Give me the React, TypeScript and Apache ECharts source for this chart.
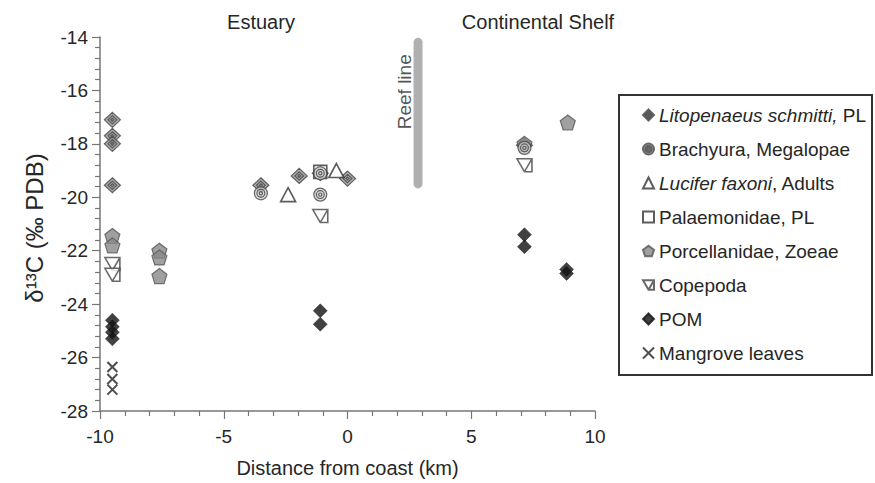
import React, { useEffect, useRef } from 'react';
import * as echarts from 'echarts';

const FONT = '"Liberation Sans", Arial, Helvetica, sans-serif';
const TEXT = '#262626';

// axis ranges
const X_MIN = -10, X_MAX = 10, X_STEP = 5;
const Y_MIN = -28, Y_MAX = -14, Y_STEP = 2;

// series names
const NAMES = [
  'Litopenaeus schmitti, PL',
  'Brachyura, Megalopae',
  'Lucifer faxoni, Adults',
  'Palaemonidae, PL',
  'Porcellanidae, Zoeae',
  'Copepoda',
  'POM',
  'Mangrove leaves',
];

// [distance km, d13C]
const litopenaeus = [
  [-9.5, -17.1], [-9.5, -17.7], [-9.5, -18.0], [-9.5, -19.55],
  [-3.5, -19.55], [-1.95, -19.2], [-1.1, -19.1], [0.0, -19.3], [7.15, -18.05],
];
const brachyura = [[-3.5, -19.85], [-1.1, -19.1], [-1.1, -19.9], [7.15, -18.15]];
const lucifer = [[-2.4, -19.9], [-0.45, -19.0]];
const palaemonidae = [[-1.1, -19.05]];
const porcellanidae = [
  [-9.5, -21.45], [-9.5, -21.8], [-7.6, -22.0], [-7.6, -22.25], [-7.6, -22.95],
  [7.15, -18.0], [8.9, -17.2],
];
const copepoda = [[-9.5, -22.5], [-9.5, -22.9], [-1.1, -20.7], [7.15, -18.8]];
const pom = [
  [-9.5, -24.6], [-9.5, -24.85], [-9.5, -25.05], [-9.5, -25.3],
  [-1.1, -24.25], [-1.1, -24.75], [7.15, -21.4], [7.15, -21.85], [8.85, -22.7], [8.85, -22.85],
];
const mangrove = [[-9.5, -26.35], [-9.5, -26.8], [-9.5, -27.2]];

const reefLine = [[2.85, -14.2], [2.85, -19.5]];
const reefLabel = [[2.3, -16.05]];

const SYM_DIAMOND_RING = 'path://M0,-10L10,0L0,10L-10,0Z M0,-5.5L5.5,0L0,5.5L-5.5,0Z M0,-2L2,0L0,2L-2,0Z';
const SYM_RING = 'path://M-10,0A10,10 0 1,1 10,0A10,10 0 1,1 -10,0Z M-6,0A6,6 0 1,1 6,0A6,6 0 1,1 -6,0Z M-2.5,0A2.5,2.5 0 1,1 2.5,0A2.5,2.5 0 1,1 -2.5,0Z';
const SYM_PENTAGON = 'path://M0,-10L9.51,-3.09L5.88,8.09L-5.88,8.09L-9.51,-3.09Z';
const SYM_COPEPODA = 'path://M-8,-7L8,-7L8,7L0,7Z M8,-7L0,7';
const SYM_CROSS = 'path://M-5,-5L5,5M5,-5L-5,5';

export default function App() {
  const ref = useRef<HTMLDivElement>(null);
  useEffect(() => {
    if (!ref.current) return;
    const chart = echarts.init(ref.current, undefined, { renderer: 'svg' });
    const scatter = (name: string, data: number[][], symbol: string, size: number | number[], itemStyle: any, z = 2) => ({
      type: 'scatter', name, data, symbol, symbolSize: size, itemStyle, z,
    });
    chart.setOption({
      animation: false,
      backgroundColor: '#fff',
      textStyle: { fontFamily: FONT },
      grid: { left: 100, right: 280, top: 37, bottom: 67 },
      xAxis: {
        type: 'value', min: X_MIN, max: X_MAX, interval: X_STEP,
        name: 'Distance from coast (km)', nameLocation: 'middle', nameGap: 47,
        nameTextStyle: { fontSize: 20, color: TEXT, fontFamily: FONT },
        axisLine: { onZero: false, lineStyle: { color: '#777', width: 1.5 } },
        axisTick: { length: 8, lineStyle: { color: '#777', width: 1.2 } },
        minorTick: { show: true, splitNumber: 5, length: 5, lineStyle: { color: '#777', width: 1.2 } },
        splitLine: { show: false },
        axisLabel: { fontSize: 19, color: TEXT, margin: 16, fontFamily: FONT },
      },
      yAxis: {
        type: 'value', min: Y_MIN, max: Y_MAX, interval: Y_STEP,
        axisLine: { show: true, onZero: false, lineStyle: { color: '#777', width: 1.5 } },
        axisTick: { show: true, length: 8, lineStyle: { color: '#777', width: 1.2 } },
        minorTick: { show: true, splitNumber: 5, length: 5, lineStyle: { color: '#777', width: 1.2 } },
        splitLine: { show: false },
        axisLabel: { fontSize: 19, color: TEXT, margin: 12, fontFamily: FONT },
      },
      legend: {
        orient: 'vertical', left: 637, top: 100,
        itemWidth: 11, itemHeight: 11, itemGap: 14,
        data: NAMES,
        textStyle: {
          fontSize: 19, color: TEXT, fontFamily: FONT, lineHeight: 20,
          rich: { i: { fontStyle: 'italic', fontSize: 19, color: TEXT, fontFamily: FONT, lineHeight: 20 } },
        },
        formatter: (n: string) => {
          if (n === NAMES[0]) return '{i|Litopenaeus schmitti,} PL';
          if (n === NAMES[2]) return '{i|Lucifer faxoni}, Adults';
          return n;
        },
      },
      graphic: [
        { type: 'rect', shape: { x: 619, y: 95, width: 253, height: 280 }, style: { fill: 'none', stroke: '#333', lineWidth: 2 }, z: 10 },
        { type: 'text', x: 261, y: 22, style: { text: 'Estuary', fontSize: 20, fill: TEXT, fontFamily: FONT, align: 'center', verticalAlign: 'middle' } },
        { type: 'text', x: 538, y: 22, style: { text: 'Continental Shelf', fontSize: 20, fill: TEXT, fontFamily: FONT, align: 'center', verticalAlign: 'middle' } },
        {
          type: 'text', x: 34, y: 228, rotation: Math.PI / 2,
          style: {
            text: 'δ¹³C (‰ PDB)', align: 'center', verticalAlign: 'middle', fill: TEXT, fontFamily: FONT, fontSize: 24,
          },
        },
      ],
      series: [
        {
          type: 'line', data: reefLine, symbol: 'none', silent: true, z: 1,
          lineStyle: { color: '#b0b0b0', width: 9, cap: 'round' },
        },
        {
          type: 'scatter', data: reefLabel, symbolSize: 0, silent: true,
          label: { show: true, formatter: 'Reef line', rotate: 90, position: 'inside', fontSize: 19, color: TEXT, fontFamily: FONT },
        },
        scatter(NAMES[0], litopenaeus, SYM_DIAMOND_RING, [16, 15], { color: '#9a9a9a', borderColor: '#444', borderWidth: 1.2 }),
        scatter(NAMES[1], brachyura, SYM_RING, 13, { color: '#d0d0d0', borderColor: '#444', borderWidth: 1.2 }, 4),
        scatter(NAMES[2], lucifer, 'triangle', [15, 14], { color: '#fff', borderColor: '#333', borderWidth: 1.6 }),
        scatter(NAMES[3], palaemonidae, 'rect', 13, { color: '#fff', borderColor: '#333', borderWidth: 1.6 }),
        scatter(NAMES[4], porcellanidae, SYM_PENTAGON, 15, { color: '#888', borderColor: '#555', borderWidth: 1.2 }, 3),
        scatter(NAMES[5], copepoda, SYM_COPEPODA, [15, 13], { color: '#fff', borderColor: '#444', borderWidth: 1.5 }),
        scatter(NAMES[6], pom, 'diamond', [14, 14], { color: '#111', borderColor: '#111', borderWidth: 0.5 }),
        scatter(NAMES[7], mangrove, SYM_CROSS, 10, { color: '#222', borderColor: '#222', borderWidth: 2 }),
      ],
    });
    return () => chart.dispose();
  }, []);
  return <div ref={ref} style={{ width: 875, height: 483, position: 'absolute', left: 0, top: 0 }} />;
}
